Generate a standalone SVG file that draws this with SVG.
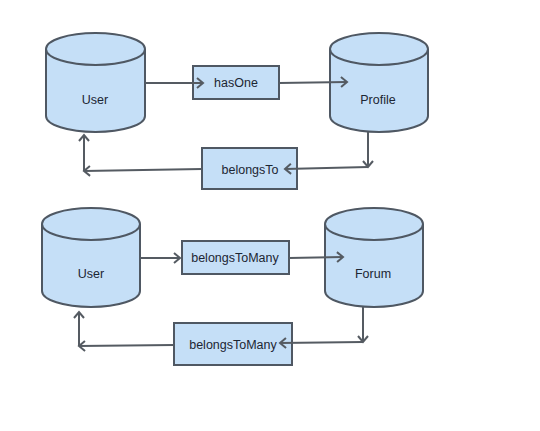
<svg xmlns="http://www.w3.org/2000/svg" width="540" height="431" viewBox="0 0 540 431">
<defs>
<style>
.shape{fill:#c5dff7;stroke:#4f5863;stroke-width:2}
.cap{fill:#c5dff7;stroke:#4f5863;stroke-width:2}
.lbl{font-family:"Liberation Sans",Arial,sans-serif;font-size:12.5px;fill:#1c2633;text-anchor:middle}
.conn{fill:none;stroke:#555b62;stroke-width:2;marker-end:url(#arr)}
</style>
<marker id="arr" markerWidth="12" markerHeight="12" refX="9" refY="6" orient="auto" markerUnits="userSpaceOnUse">
<path d="M3,1 L9,6 L3,11" fill="none" stroke="#555b62" stroke-width="2"/>
</marker>
</defs>
<rect width="540" height="431" fill="#ffffff"/>
<g id="user1">
<path class="shape" d="M46,49 L46,116 A49.5,16 0 0 0 145,116 L145,49"/>
<ellipse class="cap" cx="95.5" cy="49" rx="49.5" ry="16"/>
<text class="lbl" x="95" y="104">User</text>
</g>
<g id="profile">
<path class="shape" d="M330,49 L330,116 A49,16 0 0 0 428,116 L428,49"/>
<ellipse class="cap" cx="379" cy="49" rx="49" ry="16"/>
<text class="lbl" x="378" y="104">Profile</text>
</g>
<g id="hasOne">
<rect class="shape" x="193" y="66" width="86" height="33"/>
<text class="lbl" x="236" y="87">hasOne</text>
</g>
<g id="belongsTo">
<rect class="shape" x="202" y="148" width="95" height="41"/>
<text class="lbl" x="250" y="174">belongsTo</text>
</g>
<g id="user2">
<path class="shape" d="M42,224 L42,291 A49,16 0 0 0 140,291 L140,224"/>
<ellipse class="cap" cx="91" cy="224" rx="49" ry="16"/>
<text class="lbl" x="91" y="278">User</text>
</g>
<g id="forum">
<path class="shape" d="M325,224 L325,291 A49,16 0 0 0 423,291 L423,224"/>
<ellipse class="cap" cx="374" cy="224" rx="49" ry="16"/>
<text class="lbl" x="373" y="278">Forum</text>
</g>
<g id="belongsToMany1">
<rect class="shape" x="182" y="241" width="107" height="33"/>
<text class="lbl" x="235" y="262">belongsToMany</text>
</g>
<g id="belongsToMany2">
<rect class="shape" x="174" y="323" width="118" height="42"/>
<text class="lbl" x="233" y="349">belongsToMany</text>
</g>
<g id="connectors">
<path class="conn" d="M145,83 L203,83"/>
<path class="conn" d="M279,83 L347,82"/>
<path class="conn" d="M368,132 L368,167"/>
<path class="conn" d="M368,167 L285,169"/>
<path class="conn" d="M202,169 L84,171"/>
<path class="conn" d="M84,171 L84,135"/>
<path class="conn" d="M140,258 L180,258"/>
<path class="conn" d="M289,258 L343,257"/>
<path class="conn" d="M363,307 L363,342"/>
<path class="conn" d="M363,342 L280,343"/>
<path class="conn" d="M174,345 L79,346"/>
<path class="conn" d="M79,346 L79,312"/>
</g>
</svg>
